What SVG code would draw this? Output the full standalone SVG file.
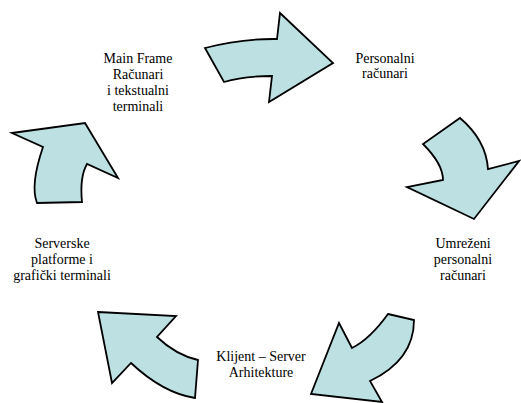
<svg xmlns="http://www.w3.org/2000/svg" width="521" height="403" viewBox="0 0 521 403">
  <style>
    .arrow { fill: #BDE0E3; stroke: #000; stroke-width: 1.8; stroke-linejoin: miter; }
    .label { font-size: 14px; fill: #000; text-anchor: middle; }
  </style>
  <rect width="521" height="403" fill="#fff"/>

  <!-- curved block arrows forming the cycle -->
  <g id="connectors">
    <path id="arrow-top" class="arrow" d="M205,48 Q241,38.5 277,39 L280,13 L333,63 L269,102 L272,76 Q244,76 224,82 Z"/>
    <path id="arrow-right" class="arrow" d="M460,118 Q486,140 488,169 L519,161 L474,219 L407,187 L443,180 Q443,164 423,144 Z"/>
    <path id="arrow-bottom-right" class="arrow" d="M388,314 L414,320 Q414,360 370,381 L382,402 L311,394 L339,323 L352,348 Q370,339 388,314 Z"/>
    <path id="arrow-bottom-left" class="arrow" d="M98,312 L176,316 L157,337 Q176,355 198,360 L195,398 Q163,393 131,363 L112,383 Z"/>
    <path id="arrow-left" class="arrow" d="M12,133 L85,123 L118,178 L87,164 Q79.5,177 82,202 L37,203 Q30,185 43,147 Z"/>
  </g>

  <g font-family="Liberation Serif, DejaVu Serif, serif">
    <g id="main-frame">
      <text class="label" x="138" y="63">Main Frame</text>
      <text class="label" x="138" y="79">Računari</text>
      <text class="label" x="138" y="95">i tekstualni</text>
      <text class="label" x="138" y="111">terminali</text>
    </g>

    <g id="personalni">
      <text class="label" x="385" y="63">Personalni</text>
      <text class="label" x="385" y="78">računari</text>
    </g>

    <g id="umrezeni">
      <text class="label" x="463" y="248">Umreženi</text>
      <text class="label" x="463" y="264">personalni</text>
      <text class="label" x="463" y="280">računari</text>
    </g>

    <g id="klijent-server">
      <text class="label" x="261" y="361">Klijent – Server</text>
      <text class="label" x="261" y="377">Arhitekture</text>
    </g>

    <g id="serverske">
      <text class="label" x="62" y="248">Serverske</text>
      <text class="label" x="62" y="264">platforme i</text>
      <text class="label" x="62" y="280">grafički terminali</text>
    </g>
  </g>
</svg>
